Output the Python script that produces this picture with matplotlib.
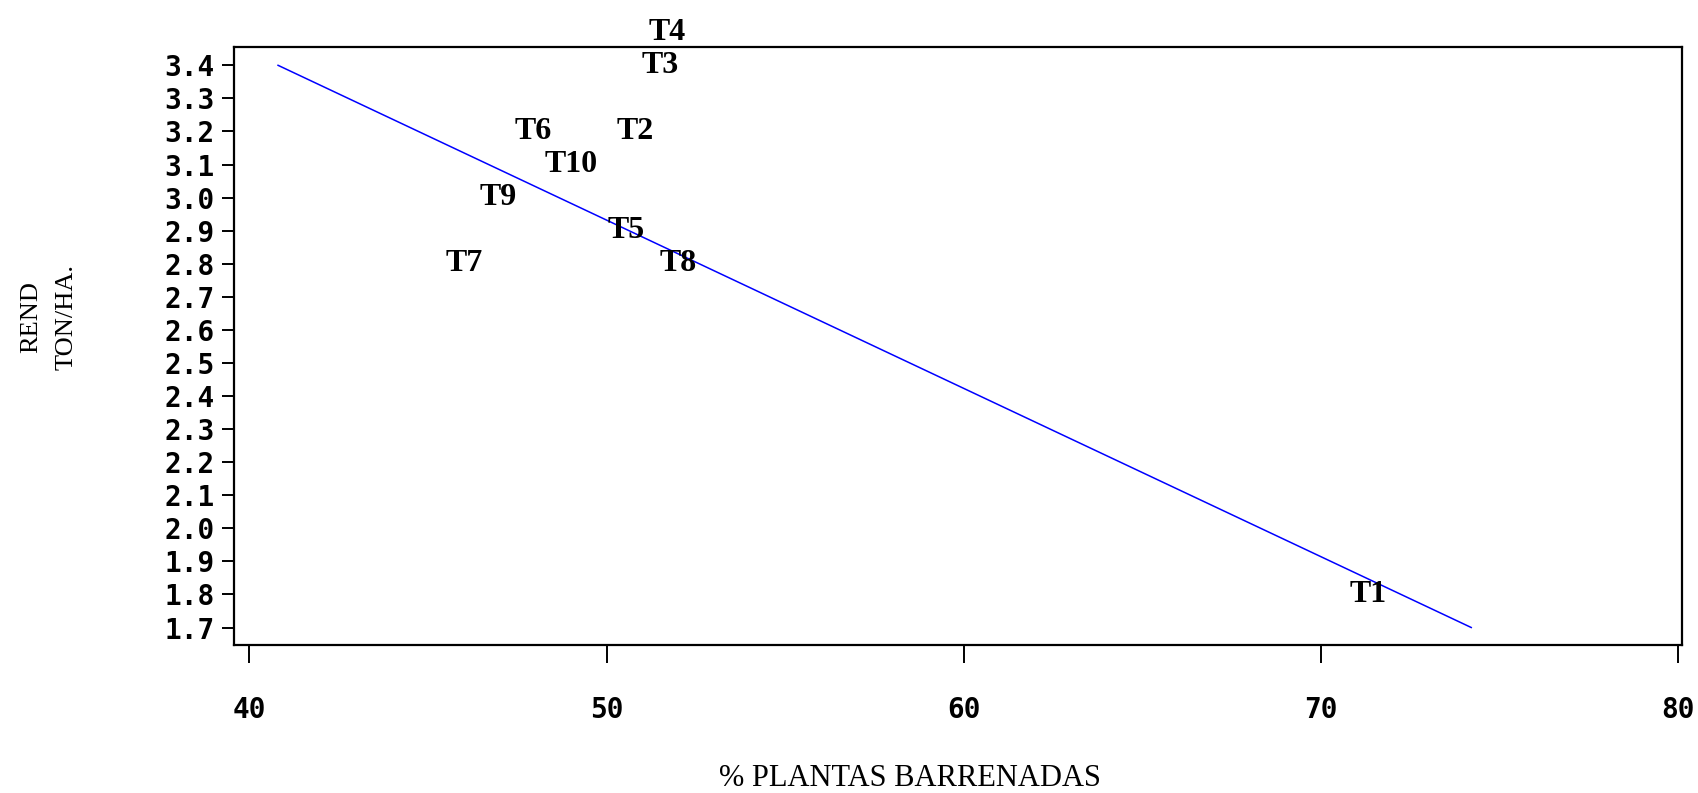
"""Scatter of yield vs. % bored plants with treatment labels and fitted line."""

import matplotlib
import matplotlib.pyplot as plt
import numpy as np

matplotlib.use("Agg")

# treatment labels and their values
labels = ["T1", "T2", "T3", "T4", "T5", "T6", "T7", "T8", "T9", "T10"]
pct_barrenadas = [71.3, 50.8, 51.5, 51.7, 50.55, 47.95, 46.0, 52.0, 46.95, 49.0]
rendimiento = [1.8, 3.2, 3.4, 3.5, 2.9, 3.2, 2.8, 2.8, 3.0, 3.1]

# regression line end points
line_x = [40.8, 74.2]
line_y = [3.4, 1.7]

x_ticks = [40, 50, 60, 70, 80]
y_ticks = np.round(np.arange(1.7, 3.41, 0.1), 1)

fig = plt.figure(figsize=(16.99, 7.93), dpi=100)
ax = fig.add_axes([0.138, 0.187, 0.852, 0.754])

ax.plot(line_x, line_y, color="#0000ff", linewidth=1.1)

for lab, x, y in zip(labels, pct_barrenadas, rendimiento):
    ax.text(x, y, lab, ha="center", va="center", fontsize=23,
            family="Liberation Serif", weight="bold", clip_on=False)

ax.set_xlim(39.58, 80.1)
ax.set_ylim(1.648, 3.456)

ax.set_xticks(x_ticks)
ax.set_xticklabels([str(v) for v in x_ticks])
ax.set_yticks(y_ticks)
ax.set_yticklabels([f"{v:.1f}" for v in y_ticks])

tick_font = {"family": "DejaVu Sans Mono", "weight": "bold", "size": 20}
for t in ax.get_xticklabels() + ax.get_yticklabels():
    t.set_fontproperties(matplotlib.font_manager.FontProperties(**tick_font))

ax.tick_params(axis="x", direction="out", length=13, width=1.4, pad=24,
               top=False)
ax.tick_params(axis="y", direction="out", length=8.5, width=1.4, pad=6,
               right=False)

for side in ("left", "right", "top", "bottom"):
    ax.spines[side].set_linewidth(1.6)
    ax.spines[side].set_color("black")

fig.text(910 / 1699, 1 - 778 / 793, "% PLANTAS BARRENADAS", ha="center",
         va="center", fontsize=22, family="Liberation Serif")
fig.text(49 / 1699, 1 - 317 / 793, "REND\nTON/HA.", ha="center", va="center",
         rotation=90, fontsize=19, family="Liberation Serif", linespacing=1.8)

fig.savefig("out.png", dpi=100)
plt.close(fig)
